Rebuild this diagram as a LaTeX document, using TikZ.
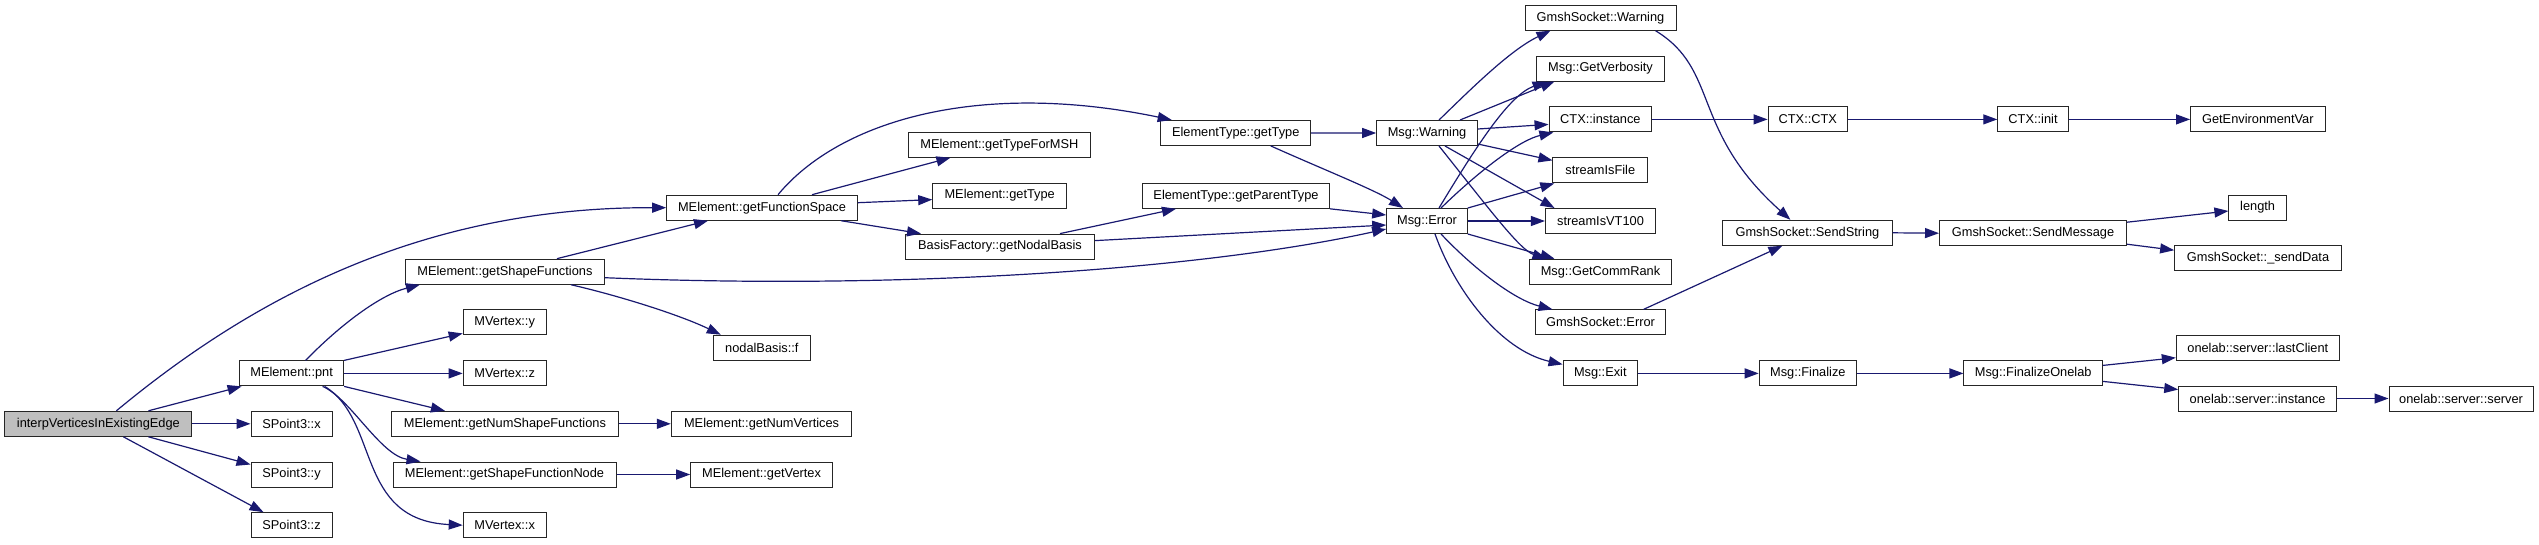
\documentclass[tikz,border=0pt]{standalone}
\usepackage{fontspec}
\setmainfont{Liberation Sans}
\usepackage{tikz}
\usetikzlibrary{arrows.meta}
\definecolor{callblue}{HTML}{191970}
\definecolor{rootgray}{HTML}{BFBFBF}
\tikzset{fn/.style={draw=black!85,line width=1pt,fill=white,rectangle,inner sep=0pt,minimum height=25pt,font=\fontsize{12.8pt}{15pt}\selectfont},
  rootfn/.style={fn,fill=rootgray},
  call/.style={draw=callblue,line width=1.2pt,-{Triangle[length=14pt,width=10pt]}}}

\begin{document}
\begin{tikzpicture}[x=1pt,y=-1pt]
\useasboundingbox (0,0) rectangle (2539,544);
% callers on the left
\node[rootfn,minimum width=187pt] (interp) at (98.4,423.8) {interpVerticesInExistingEdge};
\node[fn,minimum width=104pt] (pnt) at (291.6,373.4) {MElement::pnt};
\node[fn,minimum width=81pt] (spx) at (291.5,423.8) {SPoint3::x};
\node[fn,minimum width=81pt] (spy) at (291.5,474.5) {SPoint3::y};
\node[fn,minimum width=81pt] (spz) at (291.5,525.2) {SPoint3::z};
\node[fn,minimum width=199pt] (gsf) at (504.9,271.7) {MElement::getShapeFunctions};
\node[fn,minimum width=83pt] (mvy) at (504.7,322.4) {MVertex::y};
\node[fn,minimum width=83pt] (mvz) at (504.7,373.4) {MVertex::z};
\node[fn,minimum width=227pt] (gnsf) at (504.9,423.8) {MElement::getNumShapeFunctions};
\node[fn,minimum width=223pt] (gsfn) at (504.5,474.5) {MElement::getShapeFunctionNode};
\node[fn,minimum width=83pt] (mvx) at (504.7,525.2) {MVertex::x};
\node[fn,minimum width=190.6pt] (gfs) at (762,207.7) {MElement::getFunctionSpace};
\node[fn,minimum width=97pt] (nbf) at (761.8,347.7) {nodalBasis::f};
\node[fn,minimum width=180.6pt] (gnv) at (761.6,423.8) {MElement::getNumVertices};
\node[fn,minimum width=141.8pt] (gvx) at (761.6,474.5) {MElement::getVertex};
\node[fn,minimum width=181.3pt] (gtmsh) at (999.4,144.7) {MElement::getTypeForMSH};
\node[fn,minimum width=134pt] (gtype) at (999.7,195.6) {MElement::getType};
\node[fn,minimum width=189.4pt] (gnb) at (1000,246.6) {BasisFactory::getNodalBasis};
\node[fn,minimum width=150pt] (etgt) at (1235.7,132.9) {ElementType::getType};
\node[fn,minimum width=186.6pt] (gpt) at (1236,195.8) {ElementType::getParentType};
% messages
\node[fn,minimum width=100.6pt] (mwarn) at (1427,133) {Msg::Warning};
\node[fn,minimum width=80.6pt] (merr) at (1427,221) {Msg::Error};
\node[fn,minimum width=151pt] (gsw) at (1600.5,17.7) {GmshSocket::Warning};
\node[fn,minimum width=128pt] (gverb) at (1600.5,68.5) {Msg::GetVerbosity};
\node[fn,minimum width=102.7pt] (ctxi) at (1600.4,119.4) {CTX::instance};
\node[fn,minimum width=94.7pt] (sif) at (1600.3,170.4) {streamIsFile};
\node[fn,minimum width=110.2pt] (svt) at (1600.5,221) {streamIsVT100};
\node[fn,minimum width=142.2pt] (gcr) at (1600.5,271.7) {Msg::GetCommRank};
\node[fn,minimum width=130.4pt] (gse) at (1600.5,322.4) {GmshSocket::Error};
\node[fn,minimum width=74.5pt] (mexit) at (1600.3,373.4) {Msg::Exit};
\node[fn,minimum width=79.5pt] (ctx) at (1807.8,119.4) {CTX::CTX};
\node[fn,minimum width=169.3pt] (sendstr) at (1807.4,232.8) {GmshSocket::SendString};
\node[fn,minimum width=97.2pt] (fin) at (1807.8,373.4) {Msg::Finalize};
\node[fn,minimum width=70.5pt] (init) at (2033,119.4) {CTX::init};
\node[fn,minimum width=187pt] (sendmsg) at (2033,233.2) {GmshSocket::SendMessage};
\node[fn,minimum width=138.5pt] (fonelab) at (2033.2,373.4) {Msg::FinalizeOnelab};
\node[fn,minimum width=134.5pt] (env) at (2257.8,119.4) {GetEnvironmentVar};
\node[fn,minimum width=57.4pt] (length) at (2257.6,207.5) {length};
\node[fn,minimum width=166.7pt] (senddata) at (2258,258.2) {GmshSocket::\_sendData};
\node[fn,minimum width=163pt] (lastclient) at (2257.8,347.7) {onelab::server::lastClient};
\node[fn,minimum width=157.7pt] (osi) at (2257.6,398.5) {onelab::server::instance};
\node[fn,minimum width=144pt] (oss) at (2461,398.5) {onelab::server::server};

% calls
\draw[call] ([xshift=18pt]interp.north) .. controls (250,300) and (420,207) .. (gfs.west);
\draw[call] ([xshift=50pt]interp.north) -- ([xshift=-50pt]pnt.south);
\draw[call] (interp.east) -- (spx.west);
\draw[call] ([xshift=50pt]interp.south) -- ([yshift=10pt]spy.west);
\draw[call] ([xshift=25pt]interp.south) -- ([xshift=-28pt]spz.north);
\draw[call] ([xshift=14pt]pnt.north) .. controls (340,325) and (380,295) .. ([xshift=-85pt]gsf.south);
\draw[call] (pnt.north east) -- ([yshift=-11pt]mvy.west);
\draw[call] (pnt.east) -- (mvz.west);
\draw[call] (pnt.south east) -- ([xshift=-60pt]gnsf.north);
\draw[call] ([xshift=31pt]pnt.south) .. controls (350,398) and (380,455) .. ([xshift=-84pt]gsfn.north);
\draw[call] ([xshift=33pt]pnt.south) .. controls (380,420) and (355,520) .. (mvx.west);
\draw[call] ([xshift=52pt]gsf.north) -- ([xshift=-54pt]gfs.south);
\draw[call] ([yshift=-6pt]gsf.east) .. controls (900,290) and (1200,270) .. ([yshift=-8pt]merr.west);
\draw[call] ([xshift=66pt]gsf.south) .. controls (620,296) and (680,315) .. ([xshift=-41pt]nbf.north);
\draw[call] (gnsf.east) -- (gnv.west); \draw[call] (gsfn.east) -- (gvx.west);
\draw[call] ([xshift=16pt]gfs.north) .. controls (840,120) and (980,80) .. ([xshift=-64pt]etgt.north);
\draw[call] ([xshift=50pt]gfs.north) -- ([xshift=-49pt]gtmsh.south);
\draw[call] ([yshift=5pt]gfs.east) -- ([yshift=-4pt]gtype.west);
\draw[call] ([xshift=79pt]gfs.south) -- ([xshift=-79pt]gnb.north);
\draw[call] ([xshift=60pt]gnb.north) -- ([xshift=-60pt]gpt.south);
\draw[call] ([yshift=6pt]gnb.east) -- ([yshift=-4pt]merr.west);
\draw[call] (etgt.east) -- (mwarn.west);
\draw[call] ([xshift=35pt]etgt.south) .. controls (1320,168) and (1375,190) .. ([xshift=-24pt]merr.north);
\draw[call] (gpt.south east) -- ([yshift=6pt]merr.west);
% Msg::Warning and Msg::Error
\draw[call] ([xshift=12pt]mwarn.north) .. controls (1470,90) and (1510,50) .. ([xshift=-50pt]gsw.south);
\draw[call] ([xshift=33pt]mwarn.north) -- ([xshift=-46pt]gverb.south);
\draw[call] ([yshift=4pt]mwarn.east) -- ([yshift=-5pt]ctxi.west);
\draw[call] ([yshift=-11pt]mwarn.east) -- ([yshift=10pt]sif.west);
\draw[call] ([xshift=18pt]mwarn.south) -- ([xshift=-46pt]svt.north);
\draw[call] ([xshift=12pt]mwarn.south) .. controls (1490,210) and (1520,250) .. ([xshift=-54pt]gcr.north);
\draw[call] ([xshift=12pt]merr.north) .. controls (1480,140) and (1510,95) .. ([xshift=-54pt]gverb.south);
\draw[call] ([xshift=14pt]merr.north) .. controls (1480,170) and (1520,140) .. ([xshift=-47pt]ctxi.south);
\draw[call] (merr.north east) -- ([xshift=-46pt]sif.south);
\draw[call] (merr.east) -- (svt.west);
\draw[call] (merr.south east) -- ([xshift=-46pt]gcr.north);
\draw[call] ([xshift=14pt]merr.south) .. controls (1475,270) and (1515,300) .. ([xshift=-48pt]gse.north);
\draw[call] ([xshift=8pt]merr.south) .. controls (1455,290) and (1500,350) .. ([yshift=9pt]mexit.west);
% right side
\draw[call] ([xshift=55pt]gsw.south) .. controls (1720,70) and (1690,130) .. ([xshift=-17pt]sendstr.north);
\draw[call] ([xshift=43pt]gse.north) -- ([xshift=-25pt]sendstr.south);
\draw[call] (ctxi.east) -- (ctx.west); \draw[call] (ctx.east) -- (init.west); \draw[call] (init.east) -- (env.west);
\draw[call] (sendstr.east) -- (sendmsg.west);
\draw[call] ([yshift=11pt]sendmsg.east) -- ([yshift=-3.5pt]length.west);
\draw[call] ([yshift=-11pt]sendmsg.east) -- ([yshift=8pt]senddata.west);
\draw[call] (mexit.east) -- (fin.west); \draw[call] (fin.east) -- (fonelab.west);
\draw[call] ([yshift=8pt]fonelab.east) -- ([yshift=-10pt]lastclient.west);
\draw[call] ([yshift=-8pt]fonelab.east) -- ([yshift=9pt]osi.west);
\draw[call] (osi.east) -- (oss.west);
\end{tikzpicture}
\end{document}
